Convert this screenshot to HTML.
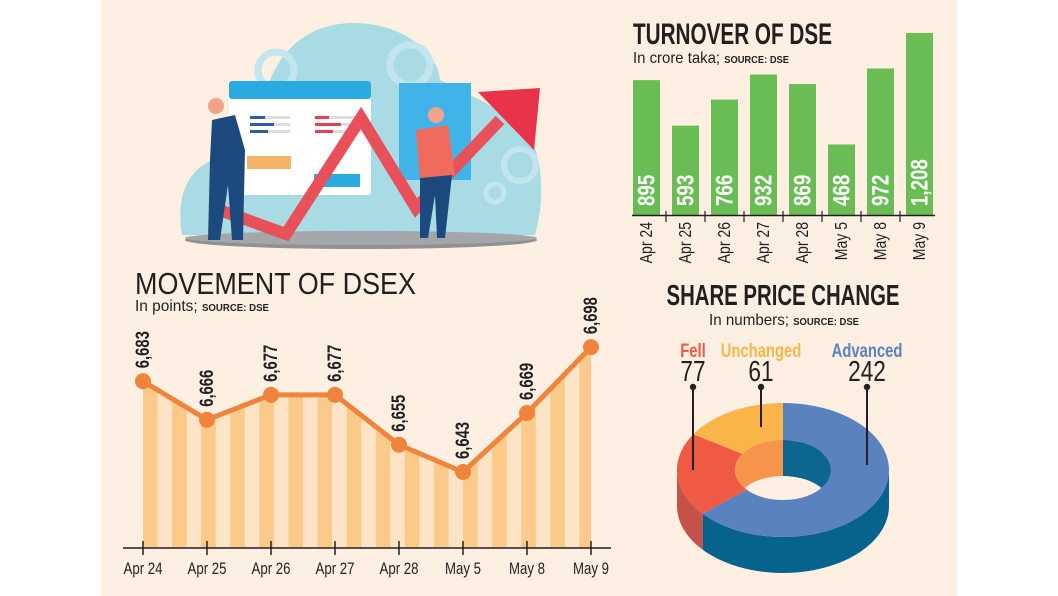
<!DOCTYPE html>
<html><head><meta charset="utf-8"><style>
html,body{margin:0;padding:0;background:#fff;}
svg{display:block;}
.c{font-family:"Liberation Sans Narrow","Liberation Sans",sans-serif;}
</style></head><body>
<svg id="root" width="1058" height="596" viewBox="0 0 1058 596">
<rect x="101" y="0" width="856" height="596" fill="#fdf0e2"/>

<g>
  <path d="M182,235 C176,200 185,168 218,158 C240,152 252,160 258,140 C262,60 300,25 350,23 C410,22 440,60 440,80 L520,120 C545,150 545,200 535,235 Z" fill="#a9dbe4"/>
  <circle cx="276" cy="70" r="18" fill="none" stroke="#c3e6ee" stroke-width="7"/>
  <circle cx="410" cy="65" r="20" fill="none" stroke="#c3e6ee" stroke-width="7"/>
  <circle cx="520" cy="165" r="16" fill="none" stroke="#c3e6ee" stroke-width="6"/>
  <circle cx="495" cy="193" r="9" fill="none" stroke="#c3e6ee" stroke-width="5"/>
  <rect x="229" y="81" width="142" height="114" rx="3" fill="#ffffff"/>
  <rect x="229" y="81" width="142" height="18" rx="3" fill="#29abe2"/>
  <rect x="250" y="116" width="40" height="3" fill="#dddddd"/><rect x="250" y="116" width="15" height="3" fill="#2e5aa8"/>
  <rect x="250" y="123" width="40" height="3" fill="#dddddd"/><rect x="250" y="123" width="24" height="3" fill="#2e5aa8"/>
  <rect x="250" y="130" width="40" height="3" fill="#dddddd"/><rect x="250" y="130" width="18" height="3" fill="#2e5aa8"/>
  <rect x="315" y="116" width="40" height="3" fill="#dddddd"/><rect x="315" y="116" width="14" height="3" fill="#e8404f"/>
  <rect x="315" y="123" width="40" height="3" fill="#dddddd"/><rect x="315" y="123" width="26" height="3" fill="#e8404f"/>
  <rect x="315" y="130" width="40" height="3" fill="#dddddd"/><rect x="315" y="130" width="18" height="3" fill="#e8404f"/>
  <rect x="247" y="156" width="44" height="13" fill="#f7b26a"/>
  <rect x="314" y="174" width="46" height="13" fill="#29abe2"/>
  <rect x="399" y="83" width="72" height="97" fill="#40b4e8"/>
  <ellipse cx="361" cy="240" rx="176" ry="9" fill="#8f9194"/>
  <ellipse cx="361" cy="238" rx="176" ry="7" fill="#a4a6a9"/>
  <polyline points="214,208 286,234 361,118 416,208 500,120" fill="none" stroke="#e8505a" stroke-width="12" stroke-linejoin="miter"/>
  <polygon points="478,92 540,88 534,150" fill="#e8334a"/>
  <path d="M212,120 L235,115 L245,150 L243,240 L232,240 L228,185 L220,240 L208,240 L210,160 Z" fill="#1c4a7e"/>
  <circle cx="216" cy="106" r="8" fill="#f2a48a"/>
  <path d="M416,130 L448,125 L455,175 L420,180 Z" fill="#ef6b5d"/>
  <path d="M420,178 L452,175 L445,238 L437,238 L435,195 L428,238 L420,238 Z" fill="#1c4a7e"/>
  <circle cx="436" cy="115" r="8" fill="#f2a48a"/>
</g>

<g>
  <text x="135" y="294" font-size="31" fill="#231f20" textLength="281" lengthAdjust="spacingAndGlyphs" style="font-family:'Liberation Sans',sans-serif">MOVEMENT OF DSEX</text>
  <text x="135" y="311" class="c" font-size="16" fill="#231f20" textLength="134" lengthAdjust="spacingAndGlyphs">In points; <tspan font-weight="bold" font-size="10" font-family="Liberation Sans">SOURCE: DSE</tspan></text>
  <defs>
    <clipPath id="areaClip"><path id="areaPath" d=""/></clipPath>
    <clipPath id="holeClip"><ellipse cx="783" cy="470" rx="48" ry="30"/></clipPath>
  </defs>
  <g id="dsexStripes" clip-path="url(#areaClip)"></g>
  <g id="dsexMarks"></g>
  <line x1="123" y1="548" x2="611" y2="548" stroke="#231f20" stroke-width="1.5"/>
  <g id="dsexAxis"></g>
</g>

<g>
  <text x="633" y="44" class="c" font-size="30" font-weight="bold" fill="#231f20" textLength="199" lengthAdjust="spacingAndGlyphs">TURNOVER OF DSE</text>
  <text x="633" y="63" class="c" font-size="16" fill="#231f20" textLength="156" lengthAdjust="spacingAndGlyphs">In crore taka; <tspan font-weight="bold" font-size="10" font-family="Liberation Sans">SOURCE: DSE</tspan></text>
  <g id="turnBars"></g>
  <line x1="632" y1="215.5" x2="935" y2="215.5" stroke="#231f20" stroke-width="1.5"/>
  <g id="turnAxis"></g>
</g>

<g>
  <text x="783" y="305" text-anchor="middle" class="c" font-size="29" font-weight="bold" fill="#231f20" textLength="233" lengthAdjust="spacingAndGlyphs">SHARE PRICE CHANGE</text>
  <text x="709" y="325" class="c" font-size="16" fill="#231f20" textLength="150" lengthAdjust="spacingAndGlyphs">In numbers; <tspan font-weight="bold" font-size="10" font-family="Liberation Sans">SOURCE: DSE</tspan></text>
  <g id="donut"></g>
  <g id="donutLabels"></g>
</g>
</svg>
<script>
const NS='http://www.w3.org/2000/svg';
function mk(tag,attrs,parent){const e=document.createElementNS(NS,tag);for(const k in attrs)e.setAttribute(k,attrs[k]);parent.appendChild(e);return e;}
const SX=0.78;

// ---- DSEX data ----
const dsexDates=['Apr 24','Apr 25','Apr 26','Apr 27','Apr 28','May 5','May 8','May 9'];
const dsexValues=[6683,6666,6677,6677,6655,6643,6669,6698];
const dsexLabels=['6,683','6,666','6,677','6,677','6,655','6,643','6,669','6,698'];

// ---- Turnover data ----
const turnDates=['Apr 24','Apr 25','Apr 26','Apr 27','Apr 28','May 5','May 8','May 9'];
const turnValues=[895,593,766,932,869,468,972,1208];
const turnLabels=['895','593','766','932','869','468','972','1,208'];

// ---- Share data ----
const shareCats=['Advanced','Fell','Unchanged'];
const shareValues=[242,77,61];

const dx=i=>143+i*64;
const dy=v=>472-(v-6643)*2.27;
const base=548;
const pts=dsexValues.map((v,i)=>[dx(i),dy(v)]);
const d='M'+dx(0)+','+base+' '+pts.map(p=>'L'+p[0]+','+p[1]).join(' ')+' L'+dx(dsexValues.length-1)+','+base+' Z';
document.getElementById('areaPath').setAttribute('d',d);
const stripes=document.getElementById('dsexStripes');
const bgArea=mk('path',{d:d,fill:'#fde4c6'},stripes);


for(let x=dx(0);x<dx(dsexValues.length-1)+15;x+=29.1){
  const s=mk('rect',{x:x,y:300,width:14.5,height:base-300,fill:'#fbc98a'},stripes);
  
  
}
const marks=document.getElementById('dsexMarks');
const ln=mk('polyline',{points:pts.map(p=>p.join(',')).join(' '),fill:'none',stroke:'#f0843c','stroke-width':5,'stroke-linejoin':'round'},marks);


pts.forEach((p,i)=>{
  const c=mk('circle',{cx:p[0],cy:p[1],r:8,fill:'#f0843c'},marks);
  
  
  const t=mk('text',{x:0,y:0,transform:`translate(${p[0]+6},${p[1]-13}) rotate(-90) scale(${SX},1)`,'font-size':19,'font-weight':'bold',fill:'#231f20',class:'c'},marks);
  t.textContent=dsexLabels[i];
  
  
});
const dAxis=document.getElementById('dsexAxis');
dsexDates.forEach((lab,i)=>{
  const tk=mk('line',{x1:dx(i),y1:541,x2:dx(i),y2:555,stroke:'#231f20','stroke-width':1.5},dAxis);
  
  
  const t=mk('text',{x:0,y:0,transform:`translate(${dx(i)},574) scale(${SX},1)`,'text-anchor':'middle','font-size':17,fill:'#231f20',class:'c'},dAxis);
  t.textContent=lab;
  
  
});

const tx=i=>633+i*39;
const th=v=>v*0.1507;
const tb=215;
const tBars=document.getElementById('turnBars');
turnValues.forEach((v,i)=>{
  const r=mk('rect',{x:tx(i),y:tb-th(v),width:27,height:th(v),fill:'#6abd54'},tBars);
  
  
  const t=mk('text',{x:0,y:0,transform:`translate(${tx(i)+21.5},${tb-9}) rotate(-90) scale(${SX},1)`,'font-size':24,'font-weight':'bold',fill:'#ffffff',class:'c'},tBars);
  t.textContent=turnLabels[i];
  
  
});
const tAxis=document.getElementById('turnAxis');
turnDates.forEach((lab,i)=>{
  if(i>0){
    const tk=mk('line',{x1:tx(i)-6,y1:211,x2:tx(i)-6,y2:222,stroke:'#231f20','stroke-width':1.2},tAxis);
    
    
  }
  const t=mk('text',{x:0,y:0,transform:`translate(${tx(i)+19},222) rotate(-90) scale(${SX},1)`,'text-anchor':'end','font-size':18,fill:'#231f20',class:'c'},tAxis);
  t.textContent=lab;
  
  
});

const shareColors=['#5a82be','#ef5a45','#f9b54a'];
const sideColors=['#08628e','#c4524a','#d99a3a'];
const innerColors=['#0d6690','#f5944a','#f5944a'];
const cx=783,cy=470,rx=106,ry=67,irx=48,iry=30,dep=36;
const P=(t,a,b,off)=>[cx+a*Math.sin(t),cy-b*Math.cos(t)+(off||0)];
const total=shareValues.reduce((a,b)=>a+b,0);
const donut=document.getElementById('donut');
const angs=[];let acc=0;
shareValues.forEach(v=>{const a0=acc/total*2*Math.PI;acc+=v;angs.push([a0,acc/total*2*Math.PI]);});
function arcPts(t0,t1,a,b,off,n){const s=[];for(let k=0;k<=n;k++){const t=t0+(t1-t0)*k/n;s.push(P(t,a,b,off));}return s;}
angs.forEach((g,i)=>{
  const t0=Math.max(g[0],Math.PI/2),t1=Math.min(g[1],1.5*Math.PI);
  if(t1<=t0)return;
  const top=arcPts(t0,t1,rx,ry,0,40),bot=arcPts(t1,t0,rx,ry,dep,40);
  const p=mk('path',{d:'M'+top.concat(bot).map(q=>q.join(',')).join(' L')+' Z',fill:sideColors[i]},donut);
  
  
});
angs.forEach((g,i)=>{
  const o=arcPts(g[0],g[1],rx,ry,0,60),inn=arcPts(g[1],g[0],irx,iry,0,60);
  const p=mk('path',{d:'M'+o.concat(inn).map(q=>q.join(',')).join(' L')+' Z',fill:shareColors[i]},donut);
  
  
});
const hole=mk('g',{'clip-path':'url(#holeClip)'},donut);
const iwR=mk('rect',{x:cx,y:cy-iry,width:irx,height:2*iry,fill:innerColors[0]},hole);


const iwL=mk('rect',{x:cx-irx,y:cy-iry,width:irx,height:2*iry,fill:innerColors[2]},hole);


const hb=mk('ellipse',{cx:cx,cy:cy+dep,rx:irx,ry:iry,fill:'#fdf0e2'},hole);



const shareLabelX=[867,693,761];
const shareLineEnd=[465,470,427];
const dl=document.getElementById('donutLabels');
shareCats.forEach((c,i)=>{
  const t1=mk('text',{x:0,y:0,transform:`translate(${shareLabelX[i]},357) scale(${SX},1)`,'text-anchor':'middle','font-size':19,'font-weight':'bold',fill:shareColors[i],class:'c'},dl);
  t1.textContent=c;
  
  
  const t2=mk('text',{x:0,y:0,transform:`translate(${shareLabelX[i]},381) scale(${SX},1)`,'text-anchor':'middle','font-size':29,fill:'#231f20',class:'c'},dl);
  t2.textContent=shareValues[i];
  
  
  const l=mk('line',{x1:shareLabelX[i],y1:387,x2:shareLabelX[i],y2:shareLineEnd[i],stroke:'#231f20','stroke-width':2},dl);
  
  
  const dt=mk('circle',{cx:shareLabelX[i],cy:387,r:3.2,fill:'#231f20'},dl);
  
  
});
</script>
</body></html>
